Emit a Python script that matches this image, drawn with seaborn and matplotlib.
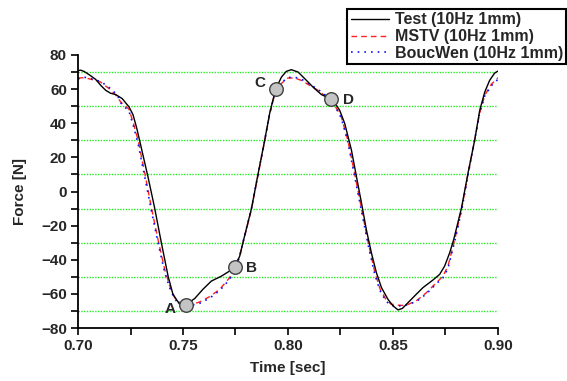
import numpy as np
import pandas as pd
import matplotlib
matplotlib.use("Agg")
import matplotlib.pyplot as plt
import seaborn as sns
from matplotlib.ticker import MultipleLocator

# ---------------- data ----------------
t_test = [0.7000, 0.7013, 0.7030, 0.7055, 0.7084, 0.7110, 0.7132, 0.7155, 0.7180, 0.7211,
          0.7230, 0.7243, 0.7262, 0.7280, 0.7302, 0.7333, 0.7365, 0.7397, 0.7429, 0.7452,
          0.7484, 0.7500, 0.7513, 0.7535, 0.7556, 0.7595, 0.7635, 0.7683, 0.7722, 0.7746,
          0.7770, 0.7789, 0.7826, 0.7857, 0.7889, 0.7913, 0.7941, 0.7969, 0.7992, 0.8016,
          0.8048, 0.8080, 0.8119, 0.8159, 0.8207, 0.8225, 0.8246, 0.8270, 0.8302, 0.8326,
          0.8350, 0.8373, 0.8397, 0.8421, 0.8445, 0.8476, 0.8500, 0.8524, 0.8545, 0.8564,
          0.8603, 0.8643, 0.8690, 0.8722, 0.8746, 0.8770, 0.8789, 0.8826, 0.8857, 0.8889,
          0.8913, 0.8937, 0.8960, 0.8984, 0.9000]
f_test = [70.9, 71.1, 70.3, 68.3, 65.7, 62.0, 59.3, 57.6, 56.8, 54.4,
          51.5, 49.6, 45.0, 37.0, 25.3, 8.7, -9.7, -30.1, -49.6, -60.2,
          -66.1, -67.0, -66.5, -64.5, -62.7, -57.3, -52.5, -49.6, -46.6, -44.3,
          -37.9, -28.2, -10.0, 10.0, 30.0, 46.0, 59.9, 67.1, 70.4, 71.4,
          70.0, 66.1, 61.2, 56.8, 54.1, 51.5, 47.6, 39.9, 24.3, 8.7,
          -6.8, -22.3, -35.9, -47.6, -56.3, -63.2, -67.0, -69.4, -68.5, -66.1,
          -61.2, -56.3, -51.9, -48.6, -43.7, -35.9, -28.2, -9.7, 10.7, 30.1,
          47.6, 58.3, 65.1, 69.4, 70.6]

t_model = [0.7000, 0.7030, 0.7065, 0.7108, 0.7148, 0.7188, 0.7203, 0.7243, 0.7265, 0.7286,
           0.7318, 0.7350, 0.7381, 0.7413, 0.7437, 0.7460, 0.7476, 0.7495, 0.7524, 0.7580,
           0.7627, 0.7675, 0.7722, 0.7754, 0.7770, 0.7789, 0.7826, 0.7857, 0.7889, 0.7913,
           0.7937, 0.7955, 0.7976, 0.8000, 0.8032, 0.8064, 0.8103, 0.8143, 0.8183, 0.8222,
           0.8254, 0.8285, 0.8318, 0.8350, 0.8382, 0.8413, 0.8438, 0.8465, 0.8490, 0.8524,
           0.8550, 0.8564, 0.8611, 0.8659, 0.8707, 0.8738, 0.8762, 0.8778, 0.8800, 0.8830,
           0.8860, 0.8890, 0.8913, 0.8937, 0.8968, 0.9000]
f_mstv = [66.5, 66.7, 65.7, 64.1, 60.3, 55.4, 52.5, 48.2, 39.5, 30.1,
          10.7, -9.7, -28.2, -45.7, -55.4, -62.2, -64.1, -66.5, -67.0, -64.7,
          -61.6, -57.3, -50.5, -42.7, -37.5, -28.5, -10.5, 9.5, 29.5, 45.5,
          57.0, 62.0, 64.1, 66.5, 66.5, 65.1, 62.2, 59.3, 55.4, 50.6,
          43.7, 30.0, 10.0, -10.0, -30.0, -47.0, -57.0, -63.0, -66.0, -66.6,
          -66.8, -66.6, -64.1, -59.3, -53.4, -49.6, -43.7, -35.9, -25.0, -8.0,
          12.0, 31.0, 46.0, 56.4, 62.8, 66.7]
f_boucwen = [66.0, 67.0, 66.0, 64.5, 61.0, 56.5, 52.0, 47.0, 38.0, 28.0,
             8.5, -11.5, -30.0, -47.5, -56.5, -63.0, -65.0, -67.0, -67.2, -65.5,
             -62.5, -58.0, -51.5, -43.5, -38.0, -28.0, -10.0, 10.0, 30.0, 46.0,
             57.5, 62.5, 64.5, 66.8, 67.0, 65.8, 63.0, 59.8, 56.0, 50.5,
             43.0, 29.0, 8.5, -11.5, -31.5, -48.5, -58.0, -64.0, -66.8, -67.0,
             -67.0, -66.5, -64.5, -60.0, -54.0, -50.5, -45.0, -37.0, -26.0, -9.0,
             11.5, 31.0, 46.5, 56.0, 62.0, 65.8]

pt_labels = ["A", "B", "C", "D"]
pt_t = [0.7513, 0.7746, 0.7941, 0.8207]
pt_f = [-66.5, -44.3, 59.9, 54.1]
lbl_t = [0.7437, 0.7826, 0.7865, 0.8286]
lbl_f = [-68.6, -44.7, 63.6, 53.5]

series_names = ["Test (10Hz 1mm)", "MSTV (10Hz 1mm)", "BoucWen (10Hz 1mm)"]
x_ticks = [0.70, 0.75, 0.80, 0.85, 0.90]
y_ticks = [-80, -60, -40, -20, 0, 20, 40, 60, 80]

# ---------------- style ----------------
sns.set_style("ticks")
plt.rcParams["font.family"] = ["Liberation Sans", "DejaVu Sans"]
plt.rcParams["font.weight"] = "bold"
plt.rcParams["axes.labelweight"] = "bold"

fig = plt.figure(figsize=(5.67, 3.81), dpi=100)
ax = fig.add_axes([78 / 567, 1 - 328 / 381, 420 / 567, 273 / 381])

df_test = pd.DataFrame({"t": t_test, "f": f_test})
df_mstv = pd.DataFrame({"t": t_model, "f": f_mstv})
df_bw = pd.DataFrame({"t": t_model, "f": f_boucwen})

sns.lineplot(data=df_test, x="t", y="f", ax=ax, color="black", lw=1.0,
             label=series_names[0], sort=False, zorder=3)
sns.lineplot(data=df_mstv, x="t", y="f", ax=ax, color="#ff2020", lw=1.0,
             label=series_names[1], sort=False, zorder=2, dashes=False)
sns.lineplot(data=df_bw, x="t", y="f", ax=ax, color="#1010ff", lw=1.2,
             label=series_names[2], sort=False, zorder=2, dashes=False)
ax.lines[1].set_linestyle((0, (4, 3)))
ax.lines[2].set_linestyle((0, (1, 3)))

ax.scatter(pt_t, pt_f, s=95, facecolor="#c4c4c4", edgecolor="#404040",
           linewidths=1.0, zorder=5)
for lab, x, y in zip(pt_labels, lbl_t, lbl_f):
    ax.text(x, y, lab, ha="center", va="center", fontsize=11, fontweight="bold",
            zorder=6)

ax.set_xlim(0.70, 0.90)
ax.set_ylim(-80, 80)
ax.set_xticks(x_ticks)
ax.set_xticklabels([f"{v:.2f}" for v in x_ticks])
ax.set_yticks(y_ticks)
ax.xaxis.set_minor_locator(MultipleLocator(0.025))
ax.yaxis.set_minor_locator(MultipleLocator(10))
ax.grid(False)
for yv in [-70, -50, -30, -10, 10, 30, 50, 70]:
    ax.axhline(yv, color="#22ee22", lw=1.0, ls=(0, (1, 1)), zorder=1)

for s in ["top", "right"]:
    ax.spines[s].set_visible(False)
for s in ["left", "bottom"]:
    ax.spines[s].set_linewidth(1.3)
    ax.spines[s].set_color("black")
ax.tick_params(which="both", direction="out", width=1.2, color="black",
               labelsize=11, pad=3)
ax.tick_params(which="major", length=5)
ax.tick_params(which="minor", length=5)
for lab in ax.get_xticklabels() + ax.get_yticklabels():
    lab.set_fontweight("bold")

ax.set_xlabel("Time [sec]", fontsize=11, fontweight="bold", labelpad=6)
ax.set_ylabel("Force [N]", fontsize=11, fontweight="bold", labelpad=10)

leg = ax.legend(loc="upper right", bbox_to_anchor=(566 / 567, 1 - 9 / 381),
                bbox_transform=fig.transFigure, borderaxespad=0,
                fancybox=False, framealpha=1, edgecolor="black",
                prop={"weight": "bold", "size": 11.5}, handlelength=2.4,
                labelspacing=0.12, borderpad=0.2, handletextpad=0.35)
leg.get_frame().set_linewidth(1.5)

fig.savefig("out.png", dpi=100)
